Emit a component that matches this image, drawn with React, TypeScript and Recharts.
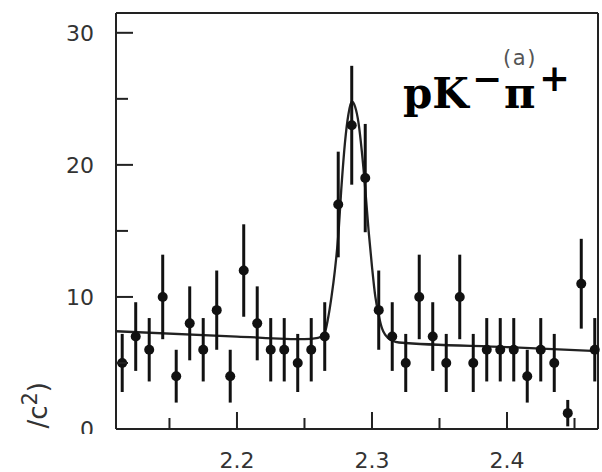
import React from 'react';
import { ComposedChart, Scatter, Line, XAxis, YAxis, ErrorBar } from 'recharts';

// pK-pi+ invariant mass spectrum, 10 MeV bins
const massBins = [
  2.115, 2.125, 2.135, 2.145, 2.155, 2.165, 2.175, 2.185, 2.195, 2.205,
  2.215, 2.225, 2.235, 2.245, 2.255, 2.265, 2.275, 2.285, 2.295, 2.305,
  2.315, 2.325, 2.335, 2.345, 2.355, 2.365, 2.375, 2.385, 2.395, 2.405,
  2.415, 2.425, 2.435, 2.445, 2.455, 2.465,
];
const counts = [
  5, 7, 6, 10, 4, 8, 6, 9, 4, 12,
  8, 6, 6, 5, 6, 7, 17, 23, 19, 9,
  7, 5, 10, 7, 5, 10, 5, 6, 6, 6,
  4, 6, 5, 1.2, 11, 6,
];
const countErrors = [
  2.2, 2.6, 2.4, 3.2, 2, 2.8, 2.4, 3, 2, 3.5,
  2.8, 2.4, 2.4, 2.2, 2.4, 2.6, 4, 4.5, 4.1, 3,
  2.6, 2.2, 3.2, 2.6, 2.2, 3.2, 2.2, 2.4, 2.4, 2.4,
  2, 2.4, 2.2, 1, 3.4, 2.4,
];

// fitted curve (gaussian + linear background)
const fitMass = [
  2.1105, 2.2, 2.25, 2.26, 2.265, 2.2675, 2.27, 2.2725, 2.275, 2.2775,
  2.28, 2.2825, 2.285, 2.2875, 2.29, 2.2925, 2.295, 2.2975, 2.3, 2.3025,
  2.305, 2.3075, 2.31, 2.315, 2.32, 2.4, 2.467,
];
const fitValues = [
  7.4, 7.0, 6.8, 6.9, 7.3, 8.4, 10.0, 12.0, 14.6, 18.5,
  21.7, 23.8, 24.8, 24.4, 23.2, 21.0, 18.2, 15.0, 12.3, 10.0,
  8.6, 7.6, 7.1, 6.7, 6.55, 6.2, 5.9,
];

const xTicks = [2.15, 2.2, 2.25, 2.3, 2.35, 2.4, 2.45];
const xLabels = [2.2, 2.3, 2.4];
const yTicks = [0, 5, 10, 15, 20, 25, 30];
const yLabels = [0, 10, 20, 30];

const INK = '#222';
const tickFont = { fontFamily: '"DejaVu Sans", sans-serif', fontSize: 22, fill: '#333' };
const frame = { stroke: INK, strokeWidth: 2 };

const points = massBins.map((x, i) => ({ x, y: counts[i], err: countErrors[i] }));
const fit = fitMass.map((x, i) => ({ x, y: fitValues[i] }));

// tick marks point into the frame
// (no allowDataOverflow on the axes: with it the in-frame ticks got clipped away)
function LeftTick(props: any) {
  const { x, y, payload } = props;
  const major = yLabels.includes(payload.value);
  return (
    <g>
      <rect x={x} y={y - 1} width={major ? 17 : 12} height={2} fill={INK} />
      {major && (
        // the bottom of the figure is cut off just under the axis
        <svg x={0} y={0} width={x} height={434} overflow="hidden">
          <text x={x - 22} y={y + 8} textAnchor="end" {...tickFont}>
            {payload.value}
          </text>
        </svg>
      )}
    </g>
  );
}

function RightTick(props: any) {
  const { x, y, payload } = props;
  const len = yLabels.includes(payload.value) ? 15 : 13;
  return <rect x={x - len} y={y - 1} width={len} height={2} fill={INK} />;
}

function BottomTick(props: any) {
  const { x, y, payload } = props;
  const major = xLabels.includes(payload.value);
  const len = major ? 17 : 11;
  return (
    <g>
      <rect x={x - 1} y={y - len} width={2} height={len} fill={INK} />
      {major && (
        <text x={x} y={y + 39} textAnchor="middle" {...tickFont}>
          {payload.value.toFixed(1)}
        </text>
      )}
    </g>
  );
}

function TopTick(props: any) {
  const { x, y, payload } = props;
  const len = xLabels.includes(payload.value) ? 17 : 12;
  return <rect x={x - 1} y={y} width={2} height={len} fill={INK} />;
}

const Dot = (p: any) => <circle cx={p.cx} cy={p.cy} r={5} fill="#111" />;

export default function App() {
  const xDomain = [2.1104, 2.4674];
  const yDomain = [0, 31.5];
  const numX = { type: 'number' as const, dataKey: 'x', domain: xDomain, ticks: xTicks, interval: 0 as const, tickSize: 0, tickMargin: 0, tickLine: false, axisLine: frame };
  const numY = { type: 'number' as const, domain: yDomain, ticks: yTicks, interval: 0 as const, tickSize: 0, tickMargin: 0, tickLine: false, axisLine: frame };

  return (
    <div style={{ position: 'absolute', left: 0, top: 0, width: 602, height: 472 }}>
      <ComposedChart width={602} height={472} margin={{ top: 0, right: 0, bottom: 0, left: 0 }}>
        <XAxis xAxisId="b" {...numX} height={43} tick={<BottomTick />} />
        <XAxis xAxisId="t" orientation="top" {...numX} height={13} tick={<TopTick />} />
        <YAxis yAxisId="l" {...numY} width={116} tick={<LeftTick />} />
        <YAxis yAxisId="r" orientation="right" {...numY} width={4} tick={<RightTick />} />
        <Line
          xAxisId="b"
          yAxisId="l"
          data={fit}
          dataKey="y"
          type="monotone"
          stroke={INK}
          strokeWidth={2.3}
          dot={false}
          activeDot={false}
          isAnimationActive={false}
        />
        <Scatter xAxisId="b" yAxisId="l" data={points} dataKey="y" shape={Dot} isAnimationActive={false}>
          <ErrorBar dataKey="err" direction="y" width={0} stroke="#111" strokeWidth={3} />
        </Scatter>
      </ComposedChart>

      <svg width={602} height={472} style={{ position: 'absolute', left: 0, top: 0, pointerEvents: 'none' }}>
        <text
          x={520}
          y={65}
          textAnchor="middle"
          fontFamily='"DejaVu Sans", sans-serif'
          fontSize={21}
          letterSpacing={1.5}
          fill="#555"
        >
          (a)
        </text>
        <text x={403} y={108} fontFamily='"DejaVu Serif", serif' fontWeight="bold" fontSize={42} fill="#000">
          pK
          <tspan x={472} fontSize={36} dy={-17}>−</tspan>
          <tspan x={504} fontSize={43} dy={17}>π</tspan>
          <tspan x={539} fontSize={37} dy={-17}>+</tspan>
        </text>
        <svg x={0} y={0} width={116} height={434} overflow="hidden">
          <text
            transform="translate(47,382) rotate(-90)"
            textAnchor="end"
            fontFamily='"DejaVu Sans", sans-serif'
            fontSize={26}
            fill="#333"
          >
            /c
            <tspan fontSize={21} dy={-10}>2</tspan>
            <tspan dy={10}>)</tspan>
          </text>
        </svg>
      </svg>
    </div>
  );
}
